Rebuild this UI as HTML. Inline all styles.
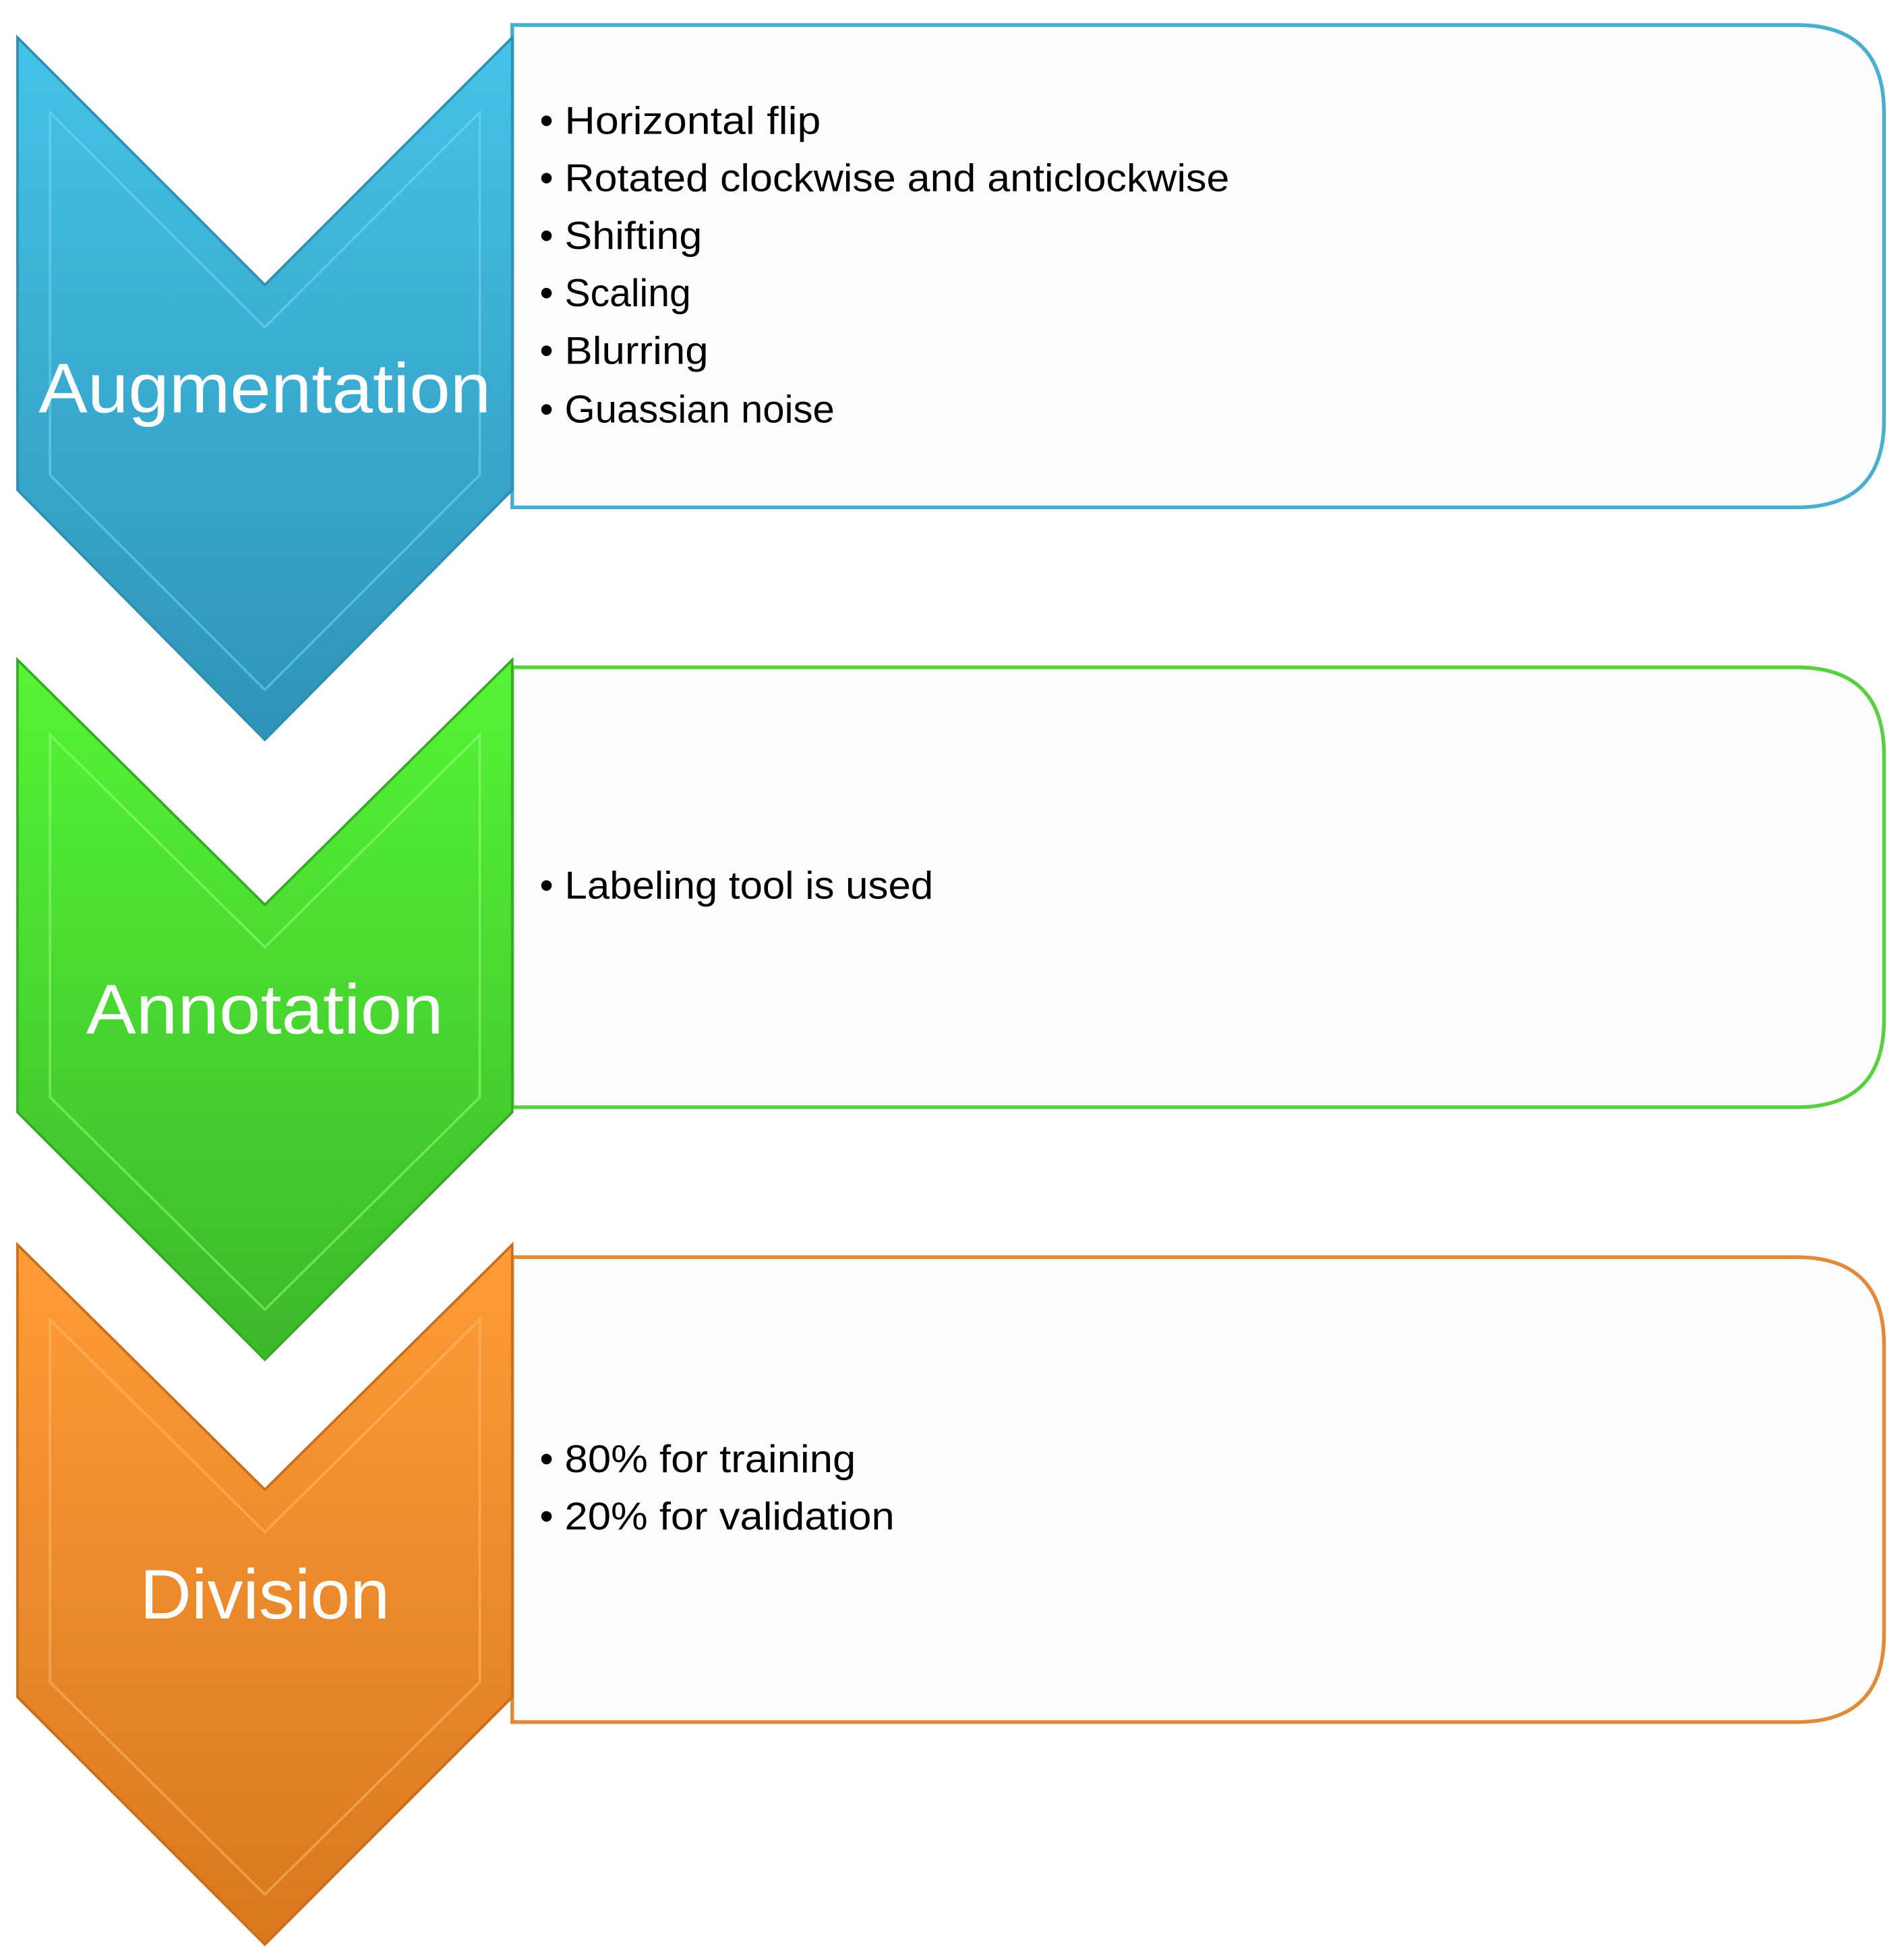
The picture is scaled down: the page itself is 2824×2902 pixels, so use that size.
<!DOCTYPE html>
<html><head><meta charset="utf-8"><style>
html,body{margin:0;padding:0;background:#fff;}
svg{display:block;}
text{font-family:"Liberation Sans",sans-serif;}
</style></head><body>
<svg width="2824" height="2902" viewBox="0 0 1524 1566" preserveAspectRatio="none" xmlns="http://www.w3.org/2000/svg">
<defs>
<linearGradient id="gb" x1="0" y1="0" x2="0" y2="1"><stop offset="0" stop-color="#45c3e8"/><stop offset="1" stop-color="#2e93b8"/></linearGradient>
<linearGradient id="gg" x1="0" y1="0" x2="0" y2="1"><stop offset="0" stop-color="#55f536"/><stop offset="1" stop-color="#3cb82a"/></linearGradient>
<linearGradient id="go" x1="0" y1="0" x2="0" y2="1"><stop offset="0" stop-color="#ff9c38"/><stop offset="1" stop-color="#d8781f"/></linearGradient>
</defs>

<!-- Boxes -->
<path d="M410,20 H1438 Q1508,20 1508,90 V336 Q1508,406 1438,406 H410 Z" fill="#fdfdfd" stroke="#4aaed0" stroke-width="3"/>
<path d="M410,534 H1438 Q1508,534 1508,604 V816 Q1508,886 1438,886 H410 Z" fill="#fdfdfd" stroke="#5ad040" stroke-width="3"/>
<path d="M410,1006 H1438 Q1508,1006 1508,1076 V1308 Q1508,1378 1438,1378 H410 Z" fill="#fdfdfd" stroke="#e08a3a" stroke-width="3"/>

<!-- Chevrons -->
<path d="M14,30 L212,228 L410,30 V392 L212,592 L14,392 Z" fill="url(#gb)" stroke="#2f8fb0" stroke-width="2"/>
<path d="M40,90 L212,262 L384,90 V380 L212,552 L40,380 Z" fill="none" stroke="#7adcf5" stroke-width="2" opacity="0.5"/>
<path d="M14,528 L212,724 L410,528 V890 L212,1088 L14,890 Z" fill="url(#gg)" stroke="#38a828" stroke-width="2"/>
<path d="M40,588 L212,758 L384,588 V878 L212,1048 L40,878 Z" fill="none" stroke="#9dff80" stroke-width="2" opacity="0.5"/>
<path d="M14,996 L212,1192 L410,996 V1358 L212,1556 L14,1358 Z" fill="url(#go)" stroke="#c86e1c" stroke-width="2"/>
<path d="M40,1056 L212,1226 L384,1056 V1346 L212,1516 L40,1346 Z" fill="none" stroke="#ffc070" stroke-width="2" opacity="0.5"/>

<!-- Chevron labels -->
<text x="212" y="330" font-size="56" fill="#fff" text-anchor="middle" textLength="362" lengthAdjust="spacingAndGlyphs">Augmentation</text>
<text x="212" y="827" font-size="56" fill="#fff" text-anchor="middle" textLength="286" lengthAdjust="spacingAndGlyphs">Annotation</text>
<text x="212" y="1295" font-size="56" fill="#fff" text-anchor="middle" textLength="200" lengthAdjust="spacingAndGlyphs">Division</text>

<!-- Bullets -->
<g font-size="31" fill="#000">
<text x="432" y="107">•</text><text x="452" y="107" textLength="205" lengthAdjust="spacingAndGlyphs">Horizontal flip</text>
<text x="432" y="153">•</text><text x="452" y="153" textLength="532" lengthAdjust="spacingAndGlyphs">Rotated clockwise and anticlockwise</text>
<text x="432" y="199">•</text><text x="452" y="199" textLength="110" lengthAdjust="spacingAndGlyphs">Shifting</text>
<text x="432" y="245">•</text><text x="452" y="245" textLength="101" lengthAdjust="spacingAndGlyphs">Scaling</text>
<text x="432" y="291">•</text><text x="452" y="291" textLength="115" lengthAdjust="spacingAndGlyphs">Blurring</text>
<text x="432" y="338">•</text><text x="452" y="338" textLength="216" lengthAdjust="spacingAndGlyphs">Guassian noise</text>
<text x="432" y="719">•</text><text x="452" y="719" textLength="295" lengthAdjust="spacingAndGlyphs">Labeling tool is used</text>
<text x="432" y="1178">•</text><text x="452" y="1178" textLength="233" lengthAdjust="spacingAndGlyphs">80% for training</text>
<text x="432" y="1224">•</text><text x="452" y="1224" textLength="264" lengthAdjust="spacingAndGlyphs">20% for validation</text>
</g>
</svg>
</body></html>
